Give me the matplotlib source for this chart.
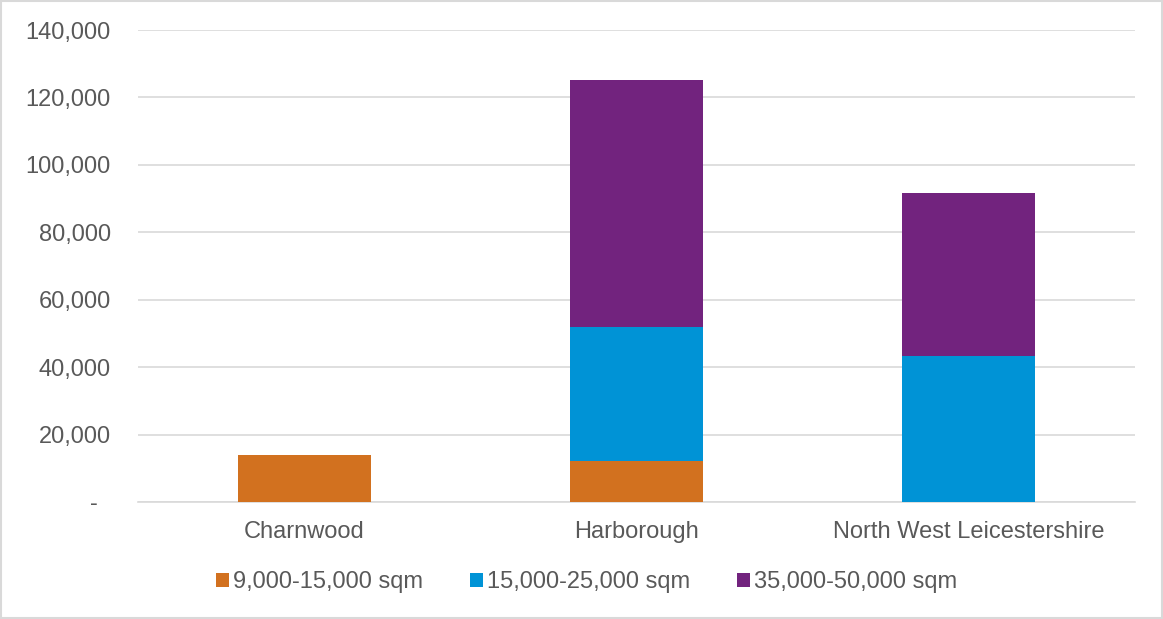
import matplotlib
matplotlib.use("Agg")
import matplotlib.pyplot as plt
from matplotlib.patches import Patch
from matplotlib.ticker import FuncFormatter

categories = ["Charnwood", "Harborough", "North West Leicestershire"]
series_names = ["9,000-15,000 sqm", "15,000-25,000 sqm", "35,000-50,000 sqm"]
s_small = [13800, 12100, 0]
s_mid = [0, 39800, 43300]
s_large = [0, 73300, 48400]
colors = ["#D2711F", "#0093D6", "#72237E"]
yticks = [0, 20000, 40000, 60000, 80000, 100000, 120000, 140000]

plt.rcParams['font.family'] = ['Liberation Sans', 'DejaVu Sans']
txt = "#595959"
fs = 17

fig = plt.figure(figsize=(11.63, 6.19), dpi=100)
ax = fig.add_axes([138/1163, 1-502/619, (1135-138)/1163, (502-30)/619])

x = list(range(len(categories)))
bottom = [0]*len(categories)
for vals, c, name in zip([s_small, s_mid, s_large], colors, series_names):
    ax.bar(x, vals, width=0.4, bottom=bottom, color=c, label=name, zorder=3)
    bottom = [b+v for b, v in zip(bottom, vals)]

ax.set_xlim(-0.5, 2.5)
ax.set_ylim(0, 140000)
ax.set_yticks(yticks)
ax.yaxis.set_major_formatter(FuncFormatter(lambda v, p: "-  " if v == 0 else f"{int(v):,}"))
ax.grid(axis='y', color='#D9D9D9', linewidth=1.2, zorder=0)
for s in ["top", "right", "left"]:
    ax.spines[s].set_visible(False)
ax.spines["bottom"].set_color('#D9D9D9')
ax.spines["bottom"].set_linewidth(1.2)
ax.tick_params(axis='y', length=0, pad=19.5, labelsize=fs, labelcolor=txt)
ax.tick_params(axis='x', length=0, pad=14, labelsize=fs, labelcolor=txt)
ax.set_xticks(x)
ax.set_xticklabels(categories)

handles = [Patch(facecolor=c, edgecolor='none') for c in colors]
fig.legend(handles, series_names, loc='center', bbox_to_anchor=(0.5 + 5/1163, 1-582/619), ncol=3,
           frameon=False, fontsize=fs, labelcolor=txt, handlelength=0.55, handleheight=0.55,
           handletextpad=0.17, columnspacing=2.0)

fig.patches.append(plt.Rectangle((0.001, 0.001), 0.998, 0.997, transform=fig.transFigure,
                                 fill=False, edgecolor='#D9D9D9', linewidth=1.5))

fig.savefig("out.png", dpi=100)
